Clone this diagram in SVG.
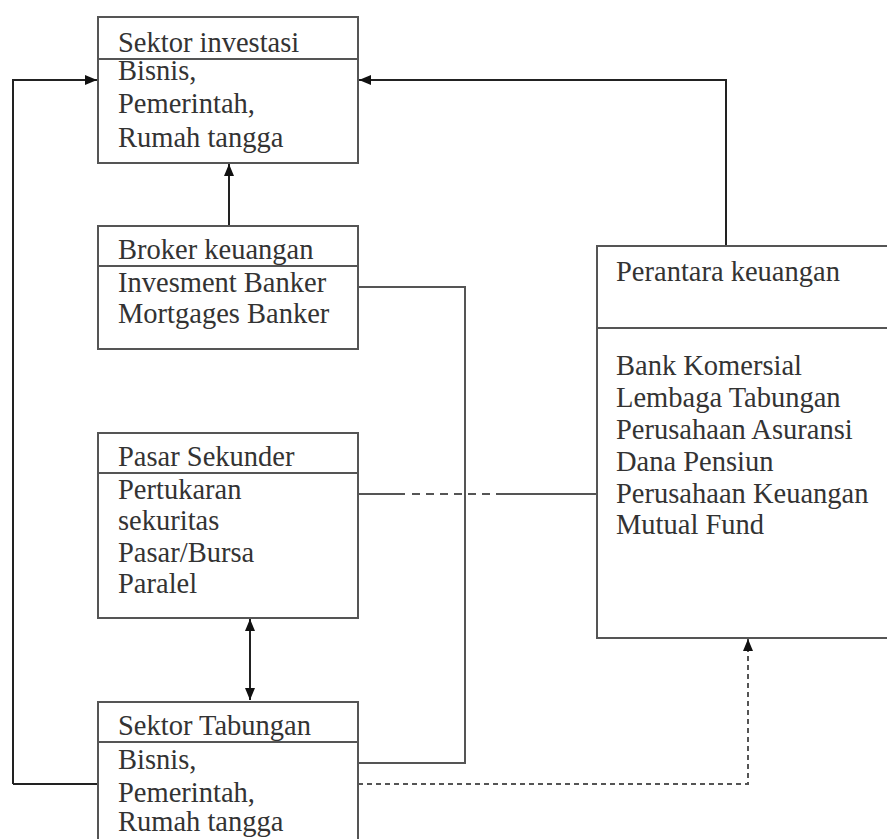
<svg xmlns="http://www.w3.org/2000/svg" width="887" height="839" viewBox="0 0 887 839">
<style>
.box{fill:#fff;stroke:#555;stroke-width:2}
.div{stroke:#555;stroke-width:2}
.t{font-family:"Liberation Serif","Times New Roman",serif;font-size:28.5px;fill:#333}
.ln{fill:none;stroke:#555;stroke-width:2}
.ar{fill:none;stroke:#222;stroke-width:2}
.dash{fill:none;stroke:#555;stroke-width:2;stroke-dasharray:8 6}
.dot{fill:none;stroke:#555;stroke-width:2;stroke-dasharray:5 4}
</style>
<defs>
<marker id="ah" viewBox="0 0 12 10" refX="12" refY="5" markerWidth="12" markerHeight="10" markerUnits="userSpaceOnUse" orient="auto-start-reverse">
<path d="M0,0 L12,5 L0,10 z" fill="#111"/>
</marker>
</defs>
<rect width="887" height="839" fill="#fff"/>
<g id="connectors">
<path class="ar" d="M13,784 L98,784 M13,784 L13,80 L97,80" marker-end="url(#ah)"/>
<path class="ar" d="M726,246 L726,80 L359,80" marker-end="url(#ah)"/>
<path class="ar" d="M229,226 L229,164" marker-end="url(#ah)"/>
<path class="ln" d="M358,287 L465,287 L465,763 L358,763"/>
<path class="ar" d="M250,619 L250,700" marker-start="url(#ah)" marker-end="url(#ah)"/>
<path class="ln" d="M358,494 L405,494 M500,494 L597,494"/>
<path class="dash" d="M412,494 L500,494"/>
<path class="dot" d="M358,784 L748,784 L748,639" marker-end="url(#ah)"/>
</g>
<g id="sektor-investasi">
<rect class="box" x="98" y="17" width="260" height="146"/>
<line class="div" x1="98" y1="59" x2="358" y2="59"/>
<text class="t" x="118" y="52">Sektor investasi</text>
<text class="t" x="118" y="80">Bisnis,</text>
<text class="t" x="118" y="113">Pemerintah,</text>
<text class="t" x="118" y="147">Rumah tangga</text>
</g>
<g id="broker-keuangan">
<rect class="box" x="98" y="226" width="260" height="123"/>
<line class="div" x1="98" y1="266" x2="358" y2="266"/>
<text class="t" x="118" y="259">Broker keuangan</text>
<text class="t" x="118" y="292">Invesment Banker</text>
<text class="t" x="118" y="323">Mortgages Banker</text>
</g>
<g id="pasar-sekunder">
<rect class="box" x="98" y="433" width="260" height="185"/>
<line class="div" x1="98" y1="473" x2="358" y2="473"/>
<text class="t" x="118" y="466">Pasar Sekunder</text>
<text class="t" x="118" y="499">Pertukaran</text>
<text class="t" x="118" y="530">sekuritas</text>
<text class="t" x="118" y="562">Pasar/Bursa</text>
<text class="t" x="118" y="593">Paralel</text>
</g>
<g id="sektor-tabungan">
<rect class="box" x="98" y="702" width="260" height="150"/>
<line class="div" x1="98" y1="742" x2="358" y2="742"/>
<text class="t" x="118" y="735">Sektor Tabungan</text>
<text class="t" x="118" y="769">Bisnis,</text>
<text class="t" x="118" y="802">Pemerintah,</text>
<text class="t" x="118" y="831">Rumah tangga</text>
</g>
<g id="perantara-keuangan">
<rect class="box" x="597" y="246" width="300" height="392"/>
<line class="div" x1="597" y1="328" x2="887" y2="328"/>
<text class="t" x="616" y="281">Perantara keuangan</text>
<text class="t" x="616" y="375">Bank Komersial</text>
<text class="t" x="616" y="407">Lembaga Tabungan</text>
<text class="t" x="616" y="439">Perusahaan Asuransi</text>
<text class="t" x="616" y="471">Dana Pensiun</text>
<text class="t" x="616" y="503">Perusahaan Keuangan</text>
<text class="t" x="616" y="534">Mutual Fund</text>
</g>
</svg>
